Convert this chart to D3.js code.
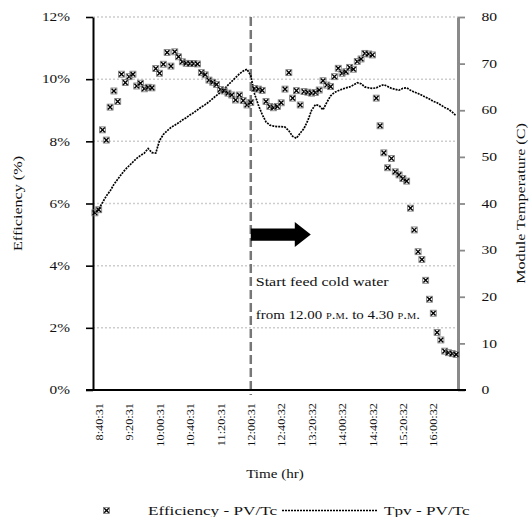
<!DOCTYPE html>
<html>
<head>
<meta charset="utf-8">
<script src="https://cdn.jsdelivr.net/npm/d3@7"></script>
<style>
  html, body { margin: 0; padding: 0; background: #fff; }
  svg { display: block; font-family: "Liberation Serif", "Times New Roman", serif; }
</style>
</head>
<body>
<svg id="chart" width="530" height="517"></svg>
<script>
// Sampling times (every 5 minutes)
const categories = [
  "8:35:31","8:40:31","8:45:31","8:50:31","8:55:31","9:00:31","9:05:31","9:10:31",
  "9:15:31","9:20:31","9:25:31","9:30:31","9:35:31","9:40:31","9:45:31","9:50:31",
  "9:55:31","10:00:31","10:05:31","10:10:31","10:15:31","10:20:31","10:25:31","10:30:31",
  "10:35:31","10:40:31","10:45:31","10:50:31","10:55:31","11:00:31","11:05:31","11:10:31",
  "11:15:31","11:20:31","11:25:31","11:30:31","11:35:31","11:40:31","11:45:31","11:50:31",
  "11:55:31","12:00:31","12:05:31","12:10:31","12:15:31","12:20:32","12:25:32","12:30:32",
  "12:35:32","12:40:32","12:45:32","12:50:32","12:55:32","13:00:32","13:05:32","13:10:32",
  "13:15:32","13:20:32","13:25:32","13:30:32","13:35:32","13:40:32","13:45:32","13:50:32",
  "13:55:32","14:00:32","14:05:32","14:10:32","14:15:32","14:20:32","14:25:32","14:30:32",
  "14:35:32","14:40:32","14:45:32","14:50:32","14:55:32","15:00:32","15:05:32","15:10:32",
  "15:15:32","15:20:32","15:25:32","15:30:32","15:35:32","15:40:32","15:45:32","15:50:32",
  "15:55:32","16:00:32","16:05:32","16:10:32","16:15:32","16:20:32","16:25:32","16:30:32"
];

// Labelled times on the time axis
const tickLabels = ["8:40:31","9:20:31","10:00:31","10:40:31","11:20:31","12:00:31",
                    "12:40:32","13:20:32","14:00:32","14:40:32","15:20:32","16:00:32"];

// Electrical efficiency of the PV/T collector (%)
const efficiency = [
  5.70, 5.80, 8.37, 8.04, 9.10, 9.62, 9.28, 10.16, 9.89, 10.08,
  10.16, 9.78, 9.87, 9.69, 9.74, 9.72, 10.34, 10.19, 10.48, 10.86,
  10.42, 10.88, 10.72, 10.56, 10.51, 10.50, 10.50, 10.49, 10.21, 10.14,
  9.97, 9.90, 9.83, 9.67, 9.62, 9.55, 9.49, 9.33, 9.49, 9.31,
  9.17, 9.25, 9.70, 9.68, 9.64, 9.28, 9.12, 9.08, 9.12, 9.24,
  9.68, 10.21, 9.39, 9.63, 9.17, 9.60, 9.58, 9.55, 9.57, 9.65,
  9.95, 9.81, 9.76, 10.08, 10.35, 10.19, 10.24, 10.38, 10.32, 10.57,
  10.65, 10.83, 10.81, 10.78, 9.39, 8.50, 7.63, 7.15, 7.45, 7.02,
  6.92, 6.80, 6.72, 5.85, 5.15, 4.45, 4.20, 3.53, 2.92, 2.47,
  1.85, 1.61, 1.25, 1.20, 1.17, 1.14
];

// Module temperature Tpv (°C)
const moduleTemp = [
  37.9, 38.8, 40.2, 41.6, 42.7, 44.1, 45.2, 46.3, 47.3, 48.1,
  48.9, 49.7, 50.3, 50.8, 51.8, 50.9, 50.8, 53.5, 54.8, 55.6,
  56.3, 56.8, 57.3, 57.9, 58.4, 59.0, 59.5, 60.1, 60.7, 61.2,
  61.8, 62.5, 63.2, 63.8, 64.5, 65.4, 66.2, 67.0, 67.8, 68.4,
  68.8, 67.4, 63.5, 61.1, 59.1, 57.5, 56.8, 56.6, 56.5, 56.5,
  56.4, 55.6, 54.4, 54.0, 55.1, 56.1, 57.8, 60.0, 61.2, 61.0,
  60.1, 61.7, 63.1, 63.8, 64.2, 64.5, 64.8, 65.0, 65.4, 65.9,
  65.7, 65.0, 64.8, 64.7, 64.8, 65.2, 65.5, 65.1, 64.7, 64.5,
  64.3, 64.7, 64.8, 64.3, 63.9, 63.6, 63.2, 62.8, 62.4, 61.9,
  61.6, 61.1, 60.6, 60.2, 59.6, 58.8
];

const effTicks = [0, 2, 4, 6, 8, 10, 12];
const tempTicks = [0, 10, 20, 30, 40, 50, 60, 70, 80];
const feedStart = "12:00:31";
const legendLabels = ["Efficiency - PV/Tc", "Tpv - PV/Tc"];

// ---- layout ----
const plot = { left: 93, right: 458, top: 17, bottom: 390 };
const FONT = '"Liberation Serif", "Times New Roman", serif';
const INK = "#111";
const LINE_DASH = "2 1";

const svg = d3.select("#chart");

const x = d3.scalePoint().domain(categories).range([plot.left, plot.right]).padding(0.5);
const yEff = d3.scaleLinear().domain([0, 12]).range([plot.bottom, plot.top]);
const yTemp = d3.scaleLinear().domain([0, 80]).range([plot.bottom, plot.top]);

// widen serif text horizontally along its baseline
function widen(sel, k) {
  sel.each(function () {
    const w = this.getComputedTextLength();
    this.setAttribute("textLength", (w * k).toFixed(1));
    this.setAttribute("lengthAdjust", "spacingAndGlyphs");
  });
}

// horizontal dotted gridlines
svg.append("g")
  .selectAll("line")
  .data(effTicks.filter(d => d > 0))
  .join("line")
  .attr("x1", plot.left).attr("x2", plot.right)
  .attr("y1", d => yEff(d)).attr("y2", d => yEff(d))
  .attr("stroke", "#cdcdcd").attr("stroke-width", 1.5)
  .attr("stroke-dasharray", "2 2");

// feed-start marker line
const xFeed = x(feedStart);
svg.append("line")
  .attr("x1", xFeed).attr("x2", xFeed)
  .attr("y1", plot.top).attr("y2", plot.bottom + 5)
  .attr("stroke", "#777").attr("stroke-width", 2.5)
  .attr("stroke-dasharray", "9 4");

// left axis: efficiency
const gL = svg.append("g")
  .attr("transform", `translate(${plot.left},0)`)
  .call(d3.axisLeft(yEff).tickValues(effTicks).tickFormat(d => d + "%")
        .tickSize(7).tickSizeOuter(0).tickPadding(16));
gL.attr("font-family", FONT).attr("font-size", 11.5);
gL.select(".domain").attr("stroke", "#000").attr("stroke-width", 2);
gL.selectAll(".tick line").attr("stroke", "#000").attr("stroke-width", 1.6);
gL.selectAll(".tick text").attr("fill", INK).call(widen, 1.33);

// right axis: module temperature
const gR = svg.append("g")
  .attr("transform", `translate(${plot.right},0)`)
  .call(d3.axisRight(yTemp).tickValues(tempTicks)
        .tickSize(7).tickSizeOuter(0).tickPadding(16.5));
gR.attr("font-family", FONT).attr("font-size", 11.5);
gR.select(".domain").attr("stroke", "#8a8a8a").attr("stroke-width", 3);
gR.selectAll(".tick line").attr("stroke", "#8a8a8a").attr("stroke-width", 1.8);
gR.selectAll(".tick text").attr("fill", INK).call(widen, 1.36);

// bottom axis
svg.append("line")
  .attr("x1", plot.left - 7).attr("x2", plot.right + 8)
  .attr("y1", plot.bottom).attr("y2", plot.bottom)
  .attr("stroke", "#000").attr("stroke-width", 2);
const gB = svg.append("g")
  .attr("transform", `translate(0,${plot.bottom})`)
  .call(d3.axisBottom(x).tickValues(tickLabels).tickSize(0));
gB.attr("font-family", FONT).attr("font-size", 10.5);
gB.select(".domain").remove();
gB.selectAll(".tick text")
  .attr("transform", "rotate(-90)")
  .attr("x", -13).attr("y", 0).attr("dy", "0.35em")
  .attr("text-anchor", "end")
  .attr("fill", INK)
  .call(widen, 1.17);

// module temperature line
svg.append("path")
  .datum(moduleTemp)
  .attr("fill", "none")
  .attr("stroke", "#000").attr("stroke-width", 1.7)
  .attr("stroke-dasharray", LINE_DASH)
  .attr("d", d3.line().x((d, i) => x(categories[i])).y(d => yTemp(d)));

// efficiency markers
function drawCross(g) {
  g.append("rect").attr("x", -3).attr("y", -3).attr("width", 6).attr("height", 6)
    .attr("fill", "none").attr("stroke", "#777").attr("stroke-width", 0.8);
  g.append("path").attr("d", "M-2.3,-2.3L2.3,2.3M-2.3,2.3L2.3,-2.3")
    .attr("stroke", "#000").attr("stroke-width", 1.4);
}
svg.append("g")
  .selectAll("g")
  .data(efficiency)
  .join("g")
  .attr("transform", (d, i) => `translate(${x(categories[i])},${yEff(d)})`)
  .each(function () { drawCross(d3.select(this)); });

// annotation: arrow and note
const yArrow = yEff(5);
const arrow = d3.path();
arrow.moveTo(xFeed, yArrow - 6.2);
arrow.lineTo(xFeed + 44, yArrow - 6.2);
arrow.lineTo(xFeed + 44, yArrow - 12.5);
arrow.lineTo(xFeed + 60, yArrow);
arrow.lineTo(xFeed + 44, yArrow + 12.5);
arrow.lineTo(xFeed + 44, yArrow + 6.2);
arrow.lineTo(xFeed, yArrow + 6.2);
arrow.closePath();
svg.append("path").attr("d", arrow.toString()).attr("fill", "#000");

const note = svg.append("g").attr("font-family", FONT).attr("font-size", 13).attr("fill", INK);
note.append("text").attr("x", xFeed + 5).attr("y", 286)
  .text("Start feed cold water").call(widen, 1.23);
const line2 = note.append("text").attr("x", xFeed + 5).attr("y", 319);
line2.append("tspan").text("from 12.00 ");
line2.append("tspan").style("font-variant", "small-caps").text("p.m.");
line2.append("tspan").text(" to 4.30 ");
line2.append("tspan").style("font-variant", "small-caps").text("p.m.");
line2.call(widen, 1.15);

// axis titles
const titles = svg.append("g").attr("font-family", FONT).attr("font-size", 13).attr("fill", INK);
titles.append("text")
  .attr("x", (plot.left + plot.right) / 2 - 0.5).attr("y", 477.5)
  .attr("text-anchor", "middle").text("Time (hr)").call(widen, 1.16);
titles.append("text")
  .attr("transform", `translate(21.5,${(plot.top + plot.bottom) / 2}) rotate(-90)`)
  .attr("text-anchor", "middle").text("Efficiency (%)").call(widen, 1.24);
titles.append("text")
  .attr("transform", `translate(525,${(plot.top + plot.bottom) / 2}) rotate(-90)`)
  .attr("text-anchor", "middle").text("Module Temperature (C)").call(widen, 1.24);

// legend
const lg = svg.append("g").attr("font-family", FONT).attr("font-size", 13).attr("fill", INK);
const yLeg = 510.5;
lg.append("g").attr("transform", `translate(106.5,${yLeg})`).call(drawCross);
lg.append("text").attr("x", 148).attr("y", 514.5).text(legendLabels[0]).call(widen, 1.32);
lg.append("line")
  .attr("x1", 282).attr("x2", 377).attr("y1", yLeg).attr("y2", yLeg)
  .attr("stroke", "#000").attr("stroke-width", 1.7).attr("stroke-dasharray", LINE_DASH);
lg.append("text").attr("x", 384).attr("y", 514.5).text(legendLabels[1]).call(widen, 1.32);
</script>
</body>
</html>
